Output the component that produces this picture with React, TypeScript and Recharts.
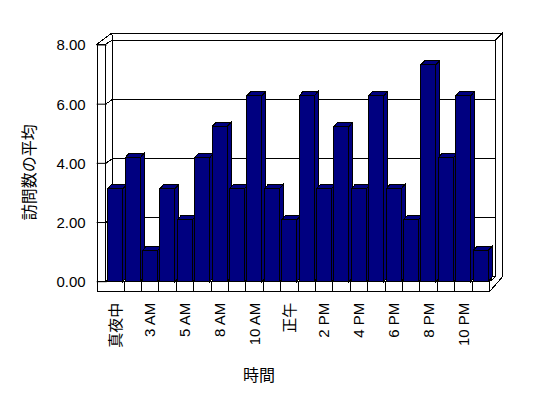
import { BarChart, Bar, XAxis, YAxis, ReferenceArea, Label } from 'recharts';

const hours = [
  '真夜中', '1 AM', '3 AM', '4 AM', '5 AM', '6 AM', '8 AM', '9 AM', '10 AM', '11 AM', '正午',
  '1 PM', '2 PM', '3 PM', '4 PM', '5 PM', '6 PM', '7 PM', '8 PM', '9 PM', '10 PM', '11 PM',
];
const visits = [
  3.14, 4.19, 1.05, 3.14, 2.09, 4.19, 5.24, 3.14, 6.28, 3.14, 2.09,
  6.28, 3.14, 5.24, 3.14, 6.28, 3.14, 2.09, 7.33, 4.19, 6.28, 1.05,
];
const yTicks = [0, 2, 4, 6, 8];

const data = hours.map((hour, i) => ({ hour, visits: visits[i] }));

const FONT = '"Liberation Sans", "Noto Sans CJK JP", sans-serif';
const NAVY = '#000080';

// 3D bar: front face + top + right side
const Bar3D = (props: any) => {
  const { x, y, width, height } = props;
  if (!height || height <= 0) return null;
  const dx = 4, dy = -4.5;
  const r = x + width, b = y + height;
  return (
    <g stroke="#000" strokeWidth={1} fill={NAVY} shapeRendering="crispEdges">
      <polygon points={`${x},${y} ${r},${y} ${r + dx},${y + dy} ${x + dx},${y + dy}`} />
      <polygon points={`${r},${y} ${r + dx},${y + dy} ${r + dx},${b + dy} ${r},${b}`} />
      <rect x={x} y={y} width={width} height={height} />
    </g>
  );
};

// walls + floor, built from the plot rect the ReferenceArea hands over
const Frame3D = (props: any) => {
  const { x, y, width, height } = props;
  const X1 = x + width, Yb = y + height;
  const DX = 6, DY = -5, T = 7;
  const bwL = x + DX, bwR = X1 + DX, bwT = y + DY, bwB = Yb + DY;
  const oT = bwT - T, oR = bwR + T;
  const lwO = x - 9.5, lwI = x - 1, lwTop = y - 1, flB = Yb + 10;
  const yMax = yTicks[yTicks.length - 1];
  const yAt = (v: number) => Yb - (v / yMax) * height;
  const band = width / hours.length;
  const inner = yTicks.filter((v) => v > 0 && v < yMax);

  return (
    <g stroke="#000" strokeWidth={1} fill="#fff" shapeRendering="crispEdges">
      <polygon points={`${x + 5},${oT} ${oR},${oT} ${bwR},${bwT} ${bwL},${bwT}`} />
      <polygon points={`${bwR},${bwT} ${oR},${oT} ${oR},${bwB} ${X1},${flB} ${X1},${Yb} ${bwR},${bwB}`} />
      <rect x={bwL} y={bwT} width={bwR - bwL} height={bwB - bwT} />
      {inner.map((v) => (
        <line key={'g' + v} x1={bwL} x2={bwR} y1={yAt(v) + DY} y2={yAt(v) + DY} />
      ))}
      <polygon points={`${lwI},${Yb} ${X1},${Yb} ${bwR},${bwB} ${bwL},${bwB}`} />
      <polygon points={`${lwI},${lwTop} ${bwL},${bwT} ${bwL},${bwB} ${lwI},${Yb}`} />
      {inner.map((v) => (
        <line key={'s' + v} x1={lwI} x2={bwL} y1={yAt(v)} y2={yAt(v) + DY} />
      ))}
      <polygon points={`${lwO},${lwTop} ${lwI},${lwTop} ${bwL},${bwT} ${x + 5},${oT}`} />
      <rect x={lwO} y={lwTop} width={lwI - lwO} height={flB - lwTop} />
      <rect x={lwO} y={Yb} width={X1 - lwO} height={flB - Yb} />
      {hours.slice(1).map((h, i) => (
        <line key={'c' + h} x1={x + (i + 1) * band} x2={x + (i + 1) * band} y1={Yb} y2={flB} />
      ))}
    </g>
  );
};

const HourTick = (props: any) => {
  const { x, y, payload } = props;
  return (
    <text
      x={x}
      y={y}
      transform={`rotate(-90 ${x} ${y})`}
      textAnchor="end"
      dy="0.35em"
      fontSize={15}
      fontFamily={FONT}
      fill="#000"
    >
      {payload.value}
    </text>
  );
};

const YTitle = (props: any) => {
  const vb = props.viewBox ?? { x: 0, y: 45, width: 107, height: 237 };
  const cx = vb.x + 29.5;
  const cy = vb.y + vb.height / 2 + 9;
  return (
    <text x={cx} y={cy} transform={`rotate(-90 ${cx} ${cy})`} textAnchor="middle" dominantBaseline="central"
      fontSize={16} fontFamily={FONT} fill="#000">
      訪問数の平均
    </text>
  );
};

const XTitle = (props: any) => {
  const vb = props.viewBox ?? { x: 107, y: 282, width: 383, height: 116 };
  return (
    <text x={vb.x + vb.width / 2 - 39} y={vb.y + 94} textAnchor="middle" dominantBaseline="central"
      fontSize={16} fontFamily={FONT} fill="#000">
      時間
    </text>
  );
};

export default function App() {
  return (
    <div style={{ position: 'absolute', left: 0, top: 0, width: 548, height: 398, background: '#fff' }}>
      <BarChart width={548} height={398} data={data} margin={{ top: 45, right: 58.5, bottom: 0, left: 0 }}>
        <XAxis
          dataKey="hour"
          interval={1}
          tickLine={false}
          axisLine={false}
          tickSize={0}
          tickMargin={21}
          height={116.3}
          tick={<HourTick />}
        >
          <Label content={<XTitle />} />
        </XAxis>
        <YAxis
          domain={[0, 8]}
          ticks={yTicks}
          tickFormatter={(v: number) => v.toFixed(2)}
          width={106.7}
          tickSize={10}
          tickMargin={11}
          axisLine={false}
          tickLine={{ stroke: '#000' }}
          tick={{ fill: '#000', fontSize: 15, fontFamily: FONT }}
        >
          <Label content={<YTitle />} />
        </YAxis>
        <ReferenceArea y1={0} y2={8} shape={<Frame3D />} ifOverflow="visible" />
        <Bar dataKey="visits" barSize={15} shape={<Bar3D />} isAnimationActive={false} />
      </BarChart>
    </div>
  );
}
